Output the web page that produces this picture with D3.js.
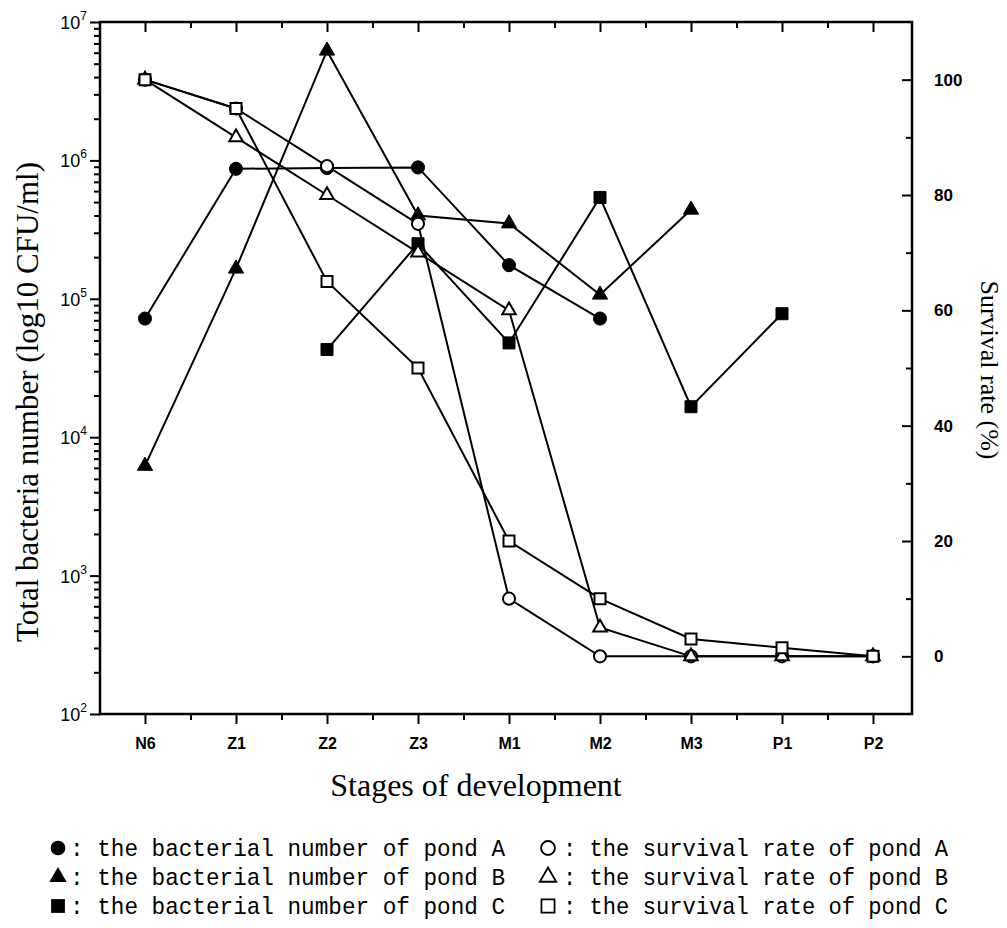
<!DOCTYPE html>
<html>
<head>
<meta charset="utf-8">
<script src="https://cdn.jsdelivr.net/npm/d3@7"></script>
<style>
body { margin: 0; background: #fff; }
</style>
</head>
<body>
<svg id="vis"></svg>
<script>
// stages on the x axis
const stages = ["N6", "Z1", "Z2", "Z3", "M1", "M2", "M3", "P1", "P2"];

// total bacteria number (CFU/ml), null = no sample
const pondA = [7.2e4, 8.7e5, 8.8e5, 8.9e5, 1.75e5, 7.2e4, null, null, null];
const pondB = [6.2e3, 1.65e5, 6.2e6, 4.0e5, 3.5e5, 1.07e5, 4.4e5, null, null];
const pondC = [null, null, 4.3e4, 2.5e5, 4.8e4, 5.4e5, 1.66e4, 7.8e4, null];

// survival rate (%)
const survA = [100, 95, 85, 75, 10, 0, 0, 0, 0];
const survB = [100, 90, 80, 70, 60, 5, 0, 0, 0];
const survC = [100, 95, 65, 50, 20, 10, 3, 1.5, 0];

// tick values
const logTicks = [1e2, 1e3, 1e4, 1e5, 1e6, 1e7];
const rateTicks = [0, 20, 40, 60, 80, 100];
const rateMinor = [10, 30, 50, 70, 90];

// legend rows
const legendLeft = ["the bacterial number of pond A", "the bacterial number of pond B", "the bacterial number of pond C"];
const legendRight = ["the survival rate of pond A", "the survival rate of pond B", "the survival rate of pond C"];

const WIDTH = 1007;
const HEIGHT = 928;
const LEFT = 100, RIGHT = 912, TOP = 22, BOTTOM = 714;

var svg = d3.select("#vis")
    .attr("width", WIDTH)
    .attr("height", HEIGHT)
    .style("font-family", "'Liberation Sans', Arial, sans-serif");

var x = d3.scaleLinear().domain([0, stages.length - 1]).range([145, 873]);
var yLog = d3.scaleLog().domain([1e2, 1e7]).range([BOTTOM, TOP]);
var yRate = d3.scaleLinear().domain([-10, 110]).range([BOTTOM, TOP]);

// series: which axis, which marker, filled or not
var series = [
    {values: pondA, scale: yLog, shape: d3.symbolCircle, size: 135, filled: true},
    {values: pondB, scale: yLog, shape: d3.symbolTriangle, size: 100, filled: true},
    {values: pondC, scale: yLog, shape: d3.symbolSquare, size: 144, filled: true},
    {values: survA, scale: yRate, shape: d3.symbolCircle, size: 115, filled: false},
    {values: survB, scale: yRate, shape: d3.symbolTriangle, size: 80, filled: false},
    {values: survC, scale: yRate, shape: d3.symbolSquare, size: 121, filled: false}
];

// ---- axes ----
var minorX = d3.range(0.5, stages.length - 1, 1);
var minorLog = [];
logTicks.slice(0, -1).forEach(function(p) {
    for (var m = 2; m < 10; m++) minorLog.push(p * m);
});

function plain(g) {
    g.select(".domain").remove();
    g.selectAll("line").attr("stroke", "#000").attr("stroke-width", 2);
}

// bottom
svg.append("g")
    .attr("transform", "translate(0," + BOTTOM + ")")
    .call(d3.axisBottom(x).tickValues(d3.range(stages.length)).tickFormat(function(i) { return stages[i]; })
        .tickSize(10).tickPadding(14))
    .call(plain)
    .call(function(g) {
        g.selectAll("text").attr("font-size", 16).attr("font-weight", "bold").attr("fill", "#000");
    });
svg.append("g")
    .attr("transform", "translate(0," + BOTTOM + ")")
    .call(d3.axisBottom(x).tickValues(minorX).tickFormat("").tickSize(6))
    .call(plain);

// top (ticks inward)
svg.append("g")
    .attr("transform", "translate(0," + TOP + ")")
    .call(d3.axisTop(x).tickValues(d3.range(stages.length)).tickFormat("").tickSize(-10))
    .call(plain);
svg.append("g")
    .attr("transform", "translate(0," + TOP + ")")
    .call(d3.axisTop(x).tickValues(minorX).tickFormat("").tickSize(-6))
    .call(plain);

// left log axis
svg.append("g")
    .attr("transform", "translate(" + LEFT + ",0)")
    .call(d3.axisLeft(yLog).tickValues(logTicks).tickFormat("").tickSize(10))
    .call(plain);
svg.append("g")
    .attr("transform", "translate(" + LEFT + ",0)")
    .call(d3.axisLeft(yLog).tickValues(minorLog).tickFormat("").tickSize(6))
    .call(plain);

var logLabels = svg.append("g").selectAll("text")
    .data(logTicks)
    .enter()
    .append("text")
    .attr("x", LEFT - 13)
    .attr("y", function(d) { return yLog(d) + 7; })
    .attr("text-anchor", "end")
    .attr("font-size", 18);
logLabels.append("tspan").text("10");
logLabels.append("tspan")
    .attr("dy", -9)
    .attr("font-size", 12)
    .text(function(d) { return Math.round(Math.log10(d)); });

// right survival axis (ticks inward)
svg.append("g")
    .attr("transform", "translate(" + RIGHT + ",0)")
    .call(d3.axisRight(yRate).tickValues(rateTicks).tickSize(-10).tickPadding(22))
    .call(plain)
    .call(function(g) {
        g.selectAll("text").attr("font-size", 17).attr("font-weight", "bold").attr("fill", "#000");
    });
svg.append("g")
    .attr("transform", "translate(" + RIGHT + ",0)")
    .call(d3.axisRight(yRate).tickValues(rateMinor).tickFormat("").tickSize(-6))
    .call(plain);

// frame
svg.append("rect")
    .attr("x", LEFT).attr("y", TOP)
    .attr("width", RIGHT - LEFT).attr("height", BOTTOM - TOP)
    .attr("fill", "none")
    .attr("stroke", "#000")
    .attr("stroke-width", 2.5);

// titles
svg.append("text")
    .attr("transform", "translate(38,402) rotate(-90)")
    .attr("text-anchor", "middle")
    .attr("font-family", "'Liberation Serif', 'Times New Roman', serif")
    .attr("font-size", 31)
    .text("Total bacteria number (log10 CFU/ml)");

svg.append("text")
    .attr("transform", "translate(981,370) rotate(90)")
    .attr("text-anchor", "middle")
    .attr("font-family", "'Liberation Serif', 'Times New Roman', serif")
    .attr("font-size", 26)
    .text("Survival rate (%)");

svg.append("text")
    .attr("x", 476)
    .attr("y", 796)
    .attr("text-anchor", "middle")
    .attr("font-family", "'Liberation Serif', 'Times New Roman', serif")
    .attr("font-size", 32)
    .text("Stages of development");

// ---- lines and markers ----
series.forEach(function(s) {
    var pts = s.values.map(function(v, i) { return {i: i, v: v}; })
        .filter(function(d) { return d.v !== null; });

    var line = d3.line()
        .x(function(d) { return x(d.i); })
        .y(function(d) { return s.scale(d.v); });

    svg.append("path")
        .datum(pts)
        .attr("d", line)
        .attr("fill", "none")
        .attr("stroke", "#000")
        .attr("stroke-width", 2);
});

series.forEach(function(s) {
    var pts = s.values.map(function(v, i) { return {i: i, v: v}; })
        .filter(function(d) { return d.v !== null; });

    svg.append("g").selectAll("path")
        .data(pts)
        .enter()
        .append("path")
        .attr("d", d3.symbol().type(s.shape).size(s.size))
        .attr("transform", function(d) { return "translate(" + x(d.i) + "," + s.scale(d.v) + ")"; })
        .attr("fill", s.filled ? "#000" : "#fff")
        .attr("stroke", "#000")
        .attr("stroke-width", s.filled ? 1 : 2);
});

// ---- legend ----
var legendShapes = [d3.symbolCircle, d3.symbolTriangle, d3.symbolSquare];
var legendSizes = [170, 130, 190];
var rowY = [848, 877, 906];

legendLeft.forEach(function(t, k) {
    svg.append("path")
        .attr("d", d3.symbol().type(legendShapes[k]).size(legendSizes[k]))
        .attr("transform", "translate(58," + rowY[k] + ")")
        .attr("fill", "#000");
    svg.append("text")
        .attr("x", 70)
        .attr("y", rowY[k] + 8)
        .attr("font-family", "'Liberation Mono', 'DejaVu Sans Mono', monospace")
        .attr("font-size", 24)
        .attr("textLength", 435)
        .attr("lengthAdjust", "spacingAndGlyphs")
        .text(": " + t);
});

legendRight.forEach(function(t, k) {
    svg.append("path")
        .attr("d", d3.symbol().type(legendShapes[k]).size(legendSizes[k] * 0.9))
        .attr("transform", "translate(548," + rowY[k] + ")")
        .attr("fill", "#fff")
        .attr("stroke", "#000")
        .attr("stroke-width", 1.8);
    svg.append("text")
        .attr("x", 563)
        .attr("y", rowY[k] + 8)
        .attr("font-family", "'Liberation Mono', 'DejaVu Sans Mono', monospace")
        .attr("font-size", 24)
        .attr("textLength", 385)
        .attr("lengthAdjust", "spacingAndGlyphs")
        .text(": " + t);
});
</script>
</body>
</html>
